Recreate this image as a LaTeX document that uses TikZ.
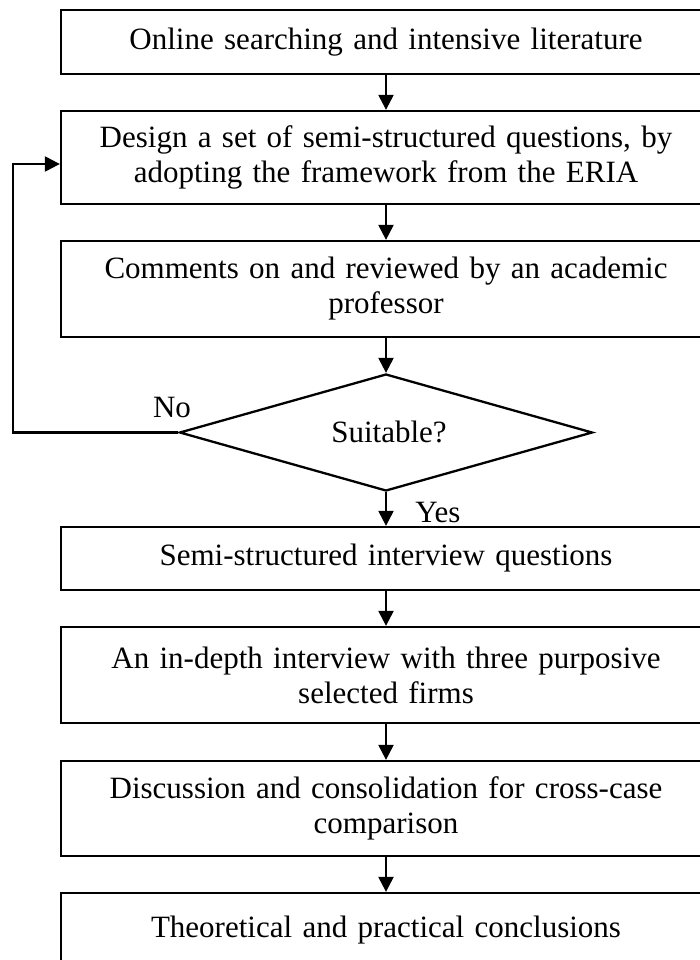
\documentclass[tikz,border=0pt]{standalone}
\usepackage{fontspec}
\setmainfont{Liberation Serif}
\usetikzlibrary{arrows.meta,shapes.geometric}
\begin{document}
\begin{tikzpicture}[x=1pt,y=-1pt,
  every node/.style={font=\fontsize{31}{35}\selectfont},
  stepbox/.style={draw,line width=2.3pt,rectangle,minimum width=650pt,inner sep=0pt,align=center,text width=640pt},
  decision/.style={draw,line width=2.3pt,diamond,minimum width=413pt,minimum height=117pt,inner sep=0pt,aspect=3.5},
  arr/.style={line width=2.3pt,-{Triangle[width=15pt,length=15pt]}},
  lbl/.style={inner sep=0pt}
]
\useasboundingbox (0,0) rectangle (700,960);
\clip (0,0) rectangle (700,960);
\fill[white] (0,0) rectangle (700,960);
\node[stepbox,minimum height=64pt] (b1) at (386,42) {Online searching and intensive literature};
\node[stepbox,minimum height=93pt] (b2) at (386,157.5) {Design a set of semi-structured questions, by\\adopting the framework from the ERIA};
\node[stepbox,minimum height=96pt] (b3) at (386,289) {Comments on and reviewed by an academic\\professor};
\node[decision] (d) at (386,432.5) {};
\node[lbl] (dt) at (389,432) {Suitable?};
\node[stepbox,minimum height=63pt] (b4) at (386,558.5) {Semi-structured interview questions};
\node[stepbox,minimum height=96pt] (b5) at (386,675) {An in-depth interview with three purposive\\selected firms};
\node[stepbox,minimum height=95pt] (b6) at (386,808.5) {Discussion and consolidation for cross-case\\comparison};
\node[stepbox,minimum height=74pt] (b7) at (386,930) {Theoretical and practical conclusions};
\node[lbl] (no) at (172,407) {No};
\node[lbl] (yes) at (438,512) {Yes};
\coordinate (fb) at (13,432.5);
\draw[arr] (b1) -- (b2);
\draw[arr] (b2) -- (b3);
\draw[arr] (b3.south) -- (d.north);
\draw[arr] (d.south) -- (b4.north);
\draw[arr] (b4) -- (b5);
\draw[arr] (b5) -- (b6);
\draw[arr] (b6) -- (b7);
\draw[arr] (d.west) -- (fb) |- ([yshift=-6.5pt]b2.west);
\end{tikzpicture}
\end{document}
